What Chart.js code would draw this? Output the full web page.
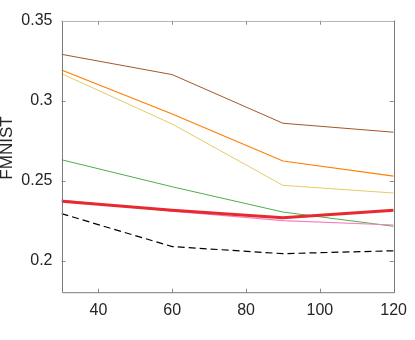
<!DOCTYPE html>
<html>
<head>
<meta charset="utf-8">
<script src="https://cdn.jsdelivr.net/npm/chart.js@4.4.0/dist/chart.umd.min.js"></script>
<style>
html,body{margin:0;padding:0;background:#fff;}
#wrap{width:415px;height:340px;position:relative;}
</style>
</head>
<body>
<div id="wrap"><canvas id="c" width="415" height="340"></canvas></div>
<script>
const xValues = [30, 60, 90, 120];
const xTicks = [40, 60, 80, 100, 120];
const yTicks = [0.2, 0.25, 0.3, 0.35];
const yLabel = "FMNIST";

const seriesRed    = [0.2371, 0.2315, 0.2269, 0.2315];
const seriesPink   = [0.2379, 0.2309, 0.2250, 0.2223];
const seriesBrown  = [0.3290, 0.3163, 0.2859, 0.2803];
const seriesOrange = [0.3192, 0.2917, 0.2623, 0.2529];
const seriesYellow = [0.3169, 0.2854, 0.2471, 0.2423];
const seriesGreen  = [0.2631, 0.2462, 0.2304, 0.2215];
const seriesBlack  = [0.2294, 0.2088, 0.2044, 0.2062];

function pts(arr){ return arr.map((v,i)=>({x:xValues[i], y:v})); }

const FONT = "'Liberation Sans', Arial, Helvetica, sans-serif";

const framePlugin = {
  id: 'frame',
  afterDatasetsDraw(chart){
    const {ctx, chartArea:a, scales} = chart;
    ctx.save();
    ctx.lineWidth = 1;
    ctx.strokeStyle = '#8a8a8a';
    const tl = 4;
    ctx.beginPath();
    xTicks.forEach(t=>{
      const px = Math.round(scales.x.getPixelForValue(t)) + 0.5;
      ctx.moveTo(px, a.bottom); ctx.lineTo(px, a.bottom - tl);
      ctx.moveTo(px, a.top); ctx.lineTo(px, a.top + tl);
    });
    yTicks.forEach(t=>{
      const py = Math.round(scales.y.getPixelForValue(t)) + 0.5;
      ctx.moveTo(a.left, py); ctx.lineTo(a.left + tl, py);
      ctx.moveTo(a.right, py); ctx.lineTo(a.right - tl, py);
    });
    ctx.stroke();
    ctx.strokeStyle = '#7a7a7a';
    ctx.beginPath();
    ctx.moveTo(Math.round(a.left)+0.5, a.top);
    ctx.lineTo(Math.round(a.left)+0.5, a.bottom);
    ctx.lineTo(Math.round(a.right)+0.5, a.bottom);
    ctx.lineTo(Math.round(a.right)+0.5, a.top);
    ctx.stroke();
    ctx.strokeStyle = '#b5b5b5';
    ctx.beginPath();
    ctx.moveTo(a.left, Math.round(a.top)+0.5);
    ctx.lineTo(a.right, Math.round(a.top)+0.5);
    ctx.stroke();
    // y title
    ctx.fillStyle = '#262626';
    ctx.font = "17px " + FONT;
    ctx.translate(7.5, 148);
    ctx.rotate(-Math.PI/2);
    ctx.textAlign = 'center';
    ctx.textBaseline = 'middle';
    ctx.fillText(yLabel, 0, 0);
    ctx.restore();
  }
};

function ds(data, color, width, dash){
  return {data: pts(data), borderColor: color, backgroundColor: color, borderWidth: width,
          borderDash: dash || [], pointRadius: 0, fill: false, tension: 0};
}

new Chart(document.getElementById('c'), {
  type: 'line',
  data: {
    datasets: [
      ds(seriesRed, '#e62a30', 3),
      ds(seriesPink, '#f47fbd', 1.2),
      ds(seriesGreen, '#4daf4a', 1),
      ds(seriesYellow, '#e3cc66', 1),
      ds(seriesOrange, '#ff7f00', 1.2),
      ds(seriesBrown, '#a65628', 1),
      ds(seriesBlack, '#000000', 1.2, [7, 4])
    ]
  },
  options: {
    responsive: false,
    animation: false,
    layout: {padding: {left: 0, right: 13.3, top: 20.7, bottom: 0}},
    plugins: {legend: {display: false}, tooltip: {enabled: false}},
    scales: {
      x: {
        type: 'linear', min: 30, max: 120,
        grid: {display: false, drawTicks: false},
        border: {display: false},
        afterBuildTicks(s){ s.ticks = xTicks.map(v=>({value:v})); },
        afterFit(s){ s.height = 47.3; },
        ticks: {color: '#262626', font: {family: FONT, size: 16}, padding: 8, maxRotation: 0,
                callback: v => String(v)}
      },
      y: {
        type: 'linear', min: 0.18, max: 0.35,
        grid: {display: false, drawTicks: false},
        border: {display: false},
        afterBuildTicks(s){ s.ticks = yTicks.map(v=>({value:v})); },
        afterFit(s){ s.width = 61.5; },
        ticks: {color: '#262626', font: {family: FONT, size: 16}, padding: 9,
                callback: v => String(+v.toFixed(2))}
      }
    }
  },
  plugins: [framePlugin]
});
</script>
</body>
</html>
